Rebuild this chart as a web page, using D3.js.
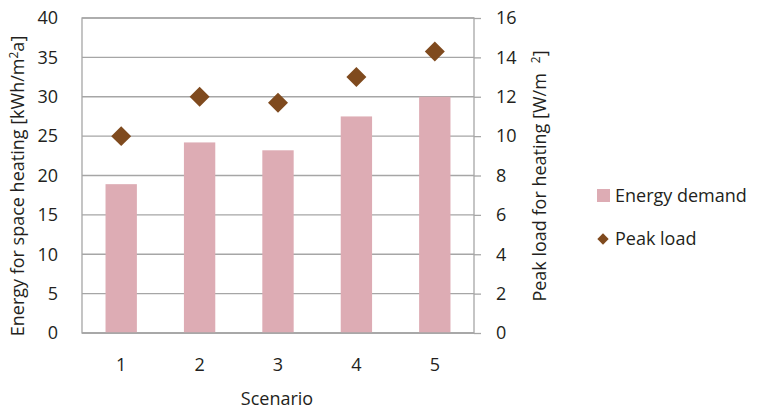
<!DOCTYPE html>
<html><head><meta charset="utf-8">
<script src="https://cdn.jsdelivr.net/npm/d3@7"></script>
<style>body{margin:0;background:#fff}svg{display:block}text{font-family:"Open Sans",sans-serif;fill:#231f20}</style>
</head><body><svg id="c" width="759" height="411"></svg>
<script>
const scenarios = ["1","2","3","4","5"];
const energyDemand = [18.9, 24.2, 23.2, 27.5, 30.0];
const peakLoad = [10.0, 12.0, 11.7, 13.0, 14.3];
const leftTicks = [0,5,10,15,20,25,30,35,40];
const rightTicks = [0,2,4,6,8,10,12,14,16];

const svg = d3.select("#c");
const m = {l:82, r:474, t:18, b:333};
const fs = 18;
const x = d3.scaleBand().domain(scenarios).range([m.l, m.r]).paddingInner(0.6).paddingOuter(0.3);
const yL = d3.scaleLinear().domain([0,40]).range([m.b, m.t]);
const yR = d3.scaleLinear().domain([0,16]).range([m.b, m.t]);
const grid = "#a6a6a6";

svg.append("g").selectAll("line").data(leftTicks).join("line")
  .attr("x1", m.l).attr("x2", m.r).attr("y1", d=>yL(d)).attr("y2", d=>yL(d))
  .attr("stroke", grid).attr("stroke-width", 1.3);
svg.append("rect").attr("x", m.l).attr("y", m.t).attr("width", m.r-m.l).attr("height", m.b-m.t)
  .attr("fill","none").attr("stroke", grid).attr("stroke-width",1.3);

svg.append("g").selectAll("rect").data(energyDemand).join("rect")
  .attr("x", (d,i)=>x(scenarios[i])).attr("width", x.bandwidth())
  .attr("y", d=>yL(d)).attr("height", d=>m.b-yL(d)).attr("fill", "#ddacb4");

svg.append("line").attr("x1", m.l).attr("x2", m.r).attr("y1", m.b).attr("y2", m.b).attr("stroke", grid).attr("stroke-width",1.3);

svg.append("g").selectAll("path").data(peakLoad).join("path")
  .attr("transform", (d,i)=>`translate(${x(scenarios[i])+x.bandwidth()/2},${yR(d)}) rotate(45)`)
  .attr("d", d3.symbol().type(d3.symbolSquare).size(200)).attr("fill", "#7f4a1e");

const gl = svg.append("g").attr("transform", `translate(${m.l},0)`)
  .call(d3.axisLeft(yL).tickValues(leftTicks).tickSize(0).tickPadding(24));
gl.select(".domain").remove();
gl.selectAll("text").style("font-size", fs+"px").attr("fill","#231f20");

const gr = svg.append("g").attr("transform", `translate(${m.r},0)`)
  .call(d3.axisRight(yR).tickValues(rightTicks).tickSize(7).tickPadding(15));
gr.select(".domain").remove();
gr.selectAll("line").attr("stroke", grid).attr("stroke-width",1.3);
gr.selectAll("text").style("font-size", fs+"px").attr("fill","#231f20");

const gb = svg.append("g").attr("transform", `translate(0,${m.b})`)
  .call(d3.axisBottom(x).tickSize(0).tickPadding(25));
gb.select(".domain").remove();
gb.selectAll("text").style("font-size", fs+"px").attr("fill","#231f20");

svg.append("text").attr("x", 277).attr("y", 405).attr("text-anchor","middle").style("font-size", fs+"px").text("Scenario");

const lt = svg.append("text").attr("transform","translate(24,186) rotate(-90)").attr("text-anchor","middle").style("font-size", fs+"px");
lt.append("tspan").text("Energy for space heating [kWh/m");
lt.append("tspan").attr("dy",-6).style("font-size","12px").text("2");
lt.append("tspan").attr("dy",6).text("a]");

const rt = svg.append("text").attr("transform","translate(546,176) rotate(-90)").attr("text-anchor","middle").style("font-size", fs+"px");
rt.append("tspan").text("Peak load for heating [W/m");
rt.append("tspan").attr("dx",10).attr("dy",-6).style("font-size","12px").text("2");
rt.append("tspan").attr("dy",6).text("]");

svg.append("rect").attr("x",597).attr("y",189).attr("width",13).attr("height",13).attr("fill","#ddacb4");
svg.append("text").attr("x",615).attr("y",196).attr("dy","0.35em").style("font-size", fs+"px").text("Energy demand");
svg.append("path").attr("transform","translate(603,239) rotate(45)").attr("d", d3.symbol().type(d3.symbolSquare).size(64)).attr("fill","#7f4a1e");
svg.append("text").attr("x",615).attr("y",239).attr("dy","0.35em").style("font-size", fs+"px").text("Peak load");
</script></body></html>
